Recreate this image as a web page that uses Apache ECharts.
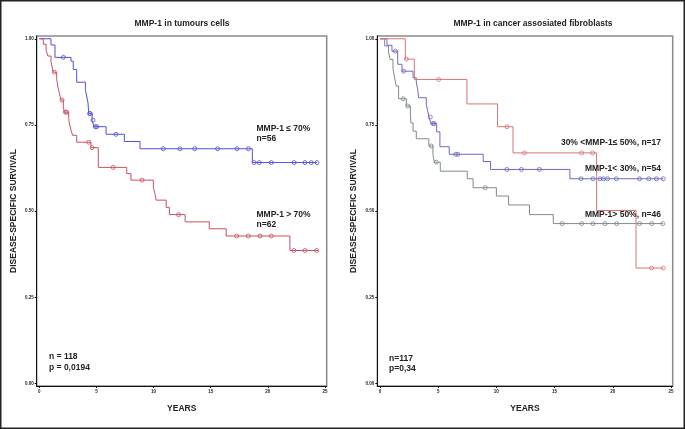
<!DOCTYPE html>
<html>
<head>
<meta charset="utf-8">
<script src="https://cdn.jsdelivr.net/npm/echarts@6/dist/echarts.min.js"></script>
<style>
html,body{margin:0;padding:0;background:#fff;}
#chart{width:685px;height:429px;}
</style>
</head>
<body>
<div id="chart"></div>
<script>
// ---- Data ----
const xTicks = [0, 5, 10, 15, 20, 25];
const yTicks = [0, 0.25, 0.5, 0.75, 1];

// Left panel: MMP-1 in tumour cells
const lowTimes = [0, 1.02, 1.37, 2.77, 2.97, 3.27, 4.03, 4.14, 4.26, 4.32, 4.62, 4.78, 5.84, 7.44, 8.81, 18.64, 24.3];
const lowSurv  = [1, 0.982, 0.946, 0.935, 0.911, 0.874, 0.853, 0.834, 0.814, 0.783, 0.764, 0.745, 0.723, 0.702, 0.681, 0.641, 0.641];
const lowCens  = [2.1, 4.4, 4.45, 4.7, 4.9, 5.02, 6.7, 10.85, 12.3, 13.6, 15.6, 17.3, 18.3, 18.8, 19.25, 20.3, 22.3, 23.25, 23.8, 24.3];

const highTimes = [0, 0.35, 0.59, 0.75, 1.02, 1.12, 1.22, 1.52, 1.61, 1.75, 1.9, 2.1, 2.19, 2.57, 2.62, 2.77, 2.92, 3.27, 4.52, 5.16, 7.65, 8.02, 9.98, 10.12, 10.22, 11.1, 11.38, 12.76, 14.87, 16.35, 21.93, 24.4];
const highSurv  = [1, 0.984, 0.966, 0.95, 0.933, 0.918, 0.903, 0.884, 0.863, 0.843, 0.822, 0.803, 0.787, 0.771, 0.756, 0.735, 0.72, 0.7, 0.684, 0.627, 0.609, 0.59, 0.568, 0.551, 0.532, 0.511, 0.49, 0.469, 0.449, 0.428, 0.386, 0.386];
const highCens  = [1.31, 1.99, 2.28, 2.39, 4.32, 4.61, 6.47, 8.99, 12.18, 17.27, 18.29, 19.31, 20.3, 22.28, 23.25, 24.27];

// Right panel: MMP-1 in cancer associated fibroblasts
const midTimes = [0, 2.18, 2.95, 7.47, 10.1, 11.43, 18.61, 22.0, 24.34];
const midSurv  = [1, 0.941, 0.882, 0.811, 0.745, 0.669, 0.502, 0.335, 0.335];
const midCens  = [2.26, 5.04, 10.91, 12.4, 17.33, 18.27, 23.34, 24.34];

const lt30Times = [0, 0.6, 1.03, 1.52, 1.89, 2.84, 3.12, 3.24, 3.32, 3.98, 4.1, 4.22, 4.38, 4.87, 5.15, 5.95, 8.87, 9.5, 16.32, 24.34];
const lt30Surv  = [1, 0.981, 0.964, 0.926, 0.906, 0.887, 0.874, 0.853, 0.829, 0.81, 0.79, 0.773, 0.754, 0.73, 0.687, 0.665, 0.644, 0.621, 0.594, 0.594];
const lt30Cens  = [1.32, 2.03, 4.32, 4.55, 4.67, 6.5, 6.68, 10.9, 12.15, 13.69, 17.28, 18.3, 18.9, 19.2, 19.55, 20.3, 22.3, 23.1, 23.75, 24.34];

const gt50Times = [0, 0.4, 0.74, 0.89, 1.12, 1.23, 1.4, 1.6, 2.26, 2.61, 2.66, 2.84, 3.12, 4.2, 4.55, 4.67, 5.18, 7.5, 8.0, 10.0, 11.05, 12.85, 14.89, 24.34];
const gt50Surv  = [1, 0.979, 0.959, 0.94, 0.913, 0.892, 0.863, 0.826, 0.805, 0.781, 0.756, 0.732, 0.71, 0.689, 0.665, 0.642, 0.616, 0.594, 0.568, 0.544, 0.518, 0.49, 0.464, 0.464];
const gt50Cens  = [1.98, 2.38, 4.41, 4.84, 9.05, 15.65, 17.33, 18.3, 19.33, 20.33, 22.3, 23.34, 24.3];

// ---- helpers ----
function survAt(times, surv, t) {
  let s = surv[0];
  for (let i = 0; i < times.length; i++) { if (times[i] <= t) s = surv[i]; }
  return s;
}
function stepSeries(times, surv, color, idx) {
  return {
    type: 'line', step: 'end', xAxisIndex: idx, yAxisIndex: idx,
    data: times.map((t, i) => [t, surv[i]]),
    showSymbol: false, lineStyle: { color: color, width: 1 }, z: 3
  };
}
function censSeries(cens, times, surv, color, idx) {
  return {
    type: 'scatter', xAxisIndex: idx, yAxisIndex: idx,
    data: cens.map(t => [t, survAt(times, surv, t)]),
    symbol: 'circle', symbolSize: 4,
    itemStyle: { color: 'transparent', borderColor: color, borderWidth: 1 }, z: 4
  };
}
const FONT = '"Liberation Sans", Arial, sans-serif';
function xAx(idx) {
  return {
    type: 'value', gridIndex: idx, min: -0.23, max: 25.15,
    name: 'YEARS', nameLocation: 'middle', nameGap: 18.5,
    nameTextStyle: { fontFamily: FONT, fontWeight: 'bold', fontSize: 8.5, color: '#222' },
    axisLine: { onZero: false, lineStyle: { color: '#111', width: 1 } },
    axisTick: { customValues: xTicks, length: 2, lineStyle: { color: '#111' } },
    axisLabel: { customValues: xTicks, fontSize: 4.5, margin: 3, color: '#222', fontFamily: FONT, fontWeight: 'bold' },
    splitLine: { show: false }
  };
}
function yAx(idx) {
  return {
    type: 'value', gridIndex: idx, min: -0.007, max: 1.008,
    name: 'DISEASE-SPECIFIC SURVIVAL', nameLocation: 'middle', nameGap: 19,
    nameTextStyle: { fontFamily: FONT, fontWeight: 'bold', fontSize: 8.5, color: '#222' },
    axisLine: { onZero: false, lineStyle: { color: '#111', width: 1 } },
    axisTick: { customValues: yTicks, length: 2, lineStyle: { color: '#111' } },
    axisLabel: { customValues: yTicks, fontSize: 4.5, margin: 3, color: '#222', fontFamily: FONT, fontWeight: 'bold',
      formatter: v => v.toFixed(2) },
    splitLine: { show: false }
  };
}
function txt(x, y, s, align) {
  return { type: 'text', x: x, y: y, z: 10,
    style: { text: s, fontFamily: FONT, fontWeight: 'bold', fontSize: 8.5, fill: '#222',
      textAlign: align || 'left', textVerticalAlign: 'middle' } };
}

const BLUE_L = '#5050d8', RED_L = '#c85060';
const RED_R = '#d87474', BLUE_R = '#6a6ac4', GRAY_R = '#7f8a8e';

const chart = echarts.init(document.getElementById('chart'), null, { renderer: 'canvas' });
chart.setOption({
  animation: false,
  backgroundColor: '#fff',
  title: [
    { text: 'MMP-1 in tumours cells', left: 177, top: 14, textAlign: 'center',
      textStyle: { fontFamily: FONT, fontWeight: 'bold', fontSize: 8.5, color: '#222' } },
    { text: 'MMP-1 in cancer assosiated fibroblasts', left: 528, top: 14, textAlign: 'center',
      textStyle: { fontFamily: FONT, fontWeight: 'bold', fontSize: 8.5, color: '#222' } }
  ],
  grid: [
    { left: 36.7, top: 36, width: 290, height: 350, show: true, borderColor: '#8a8a8a', borderWidth: 1.5 },
    { left: 377.3, top: 36, width: 295.4, height: 350, show: true, borderColor: '#8a8a8a', borderWidth: 1.5 }
  ],
  xAxis: [xAx(0), xAx(1)],
  yAxis: [yAx(0), yAx(1)],
  series: [
    stepSeries(lowTimes, lowSurv, BLUE_L, 0),
    censSeries(lowCens, lowTimes, lowSurv, BLUE_L, 0),
    stepSeries(highTimes, highSurv, RED_L, 0),
    censSeries(highCens, highTimes, highSurv, RED_L, 0),
    stepSeries(gt50Times, gt50Surv, GRAY_R, 1),
    censSeries(gt50Cens, gt50Times, gt50Surv, GRAY_R, 1),
    stepSeries(lt30Times, lt30Surv, BLUE_R, 1),
    censSeries(lt30Cens, lt30Times, lt30Surv, BLUE_R, 1),
    stepSeries(midTimes, midSurv, RED_R, 1),
    censSeries(midCens, midTimes, midSurv, RED_R, 1)
  ],
  graphic: [
    { type: 'rect', shape: { x: 0.75, y: 0.75, width: 683.5, height: 427.5 },
      style: { fill: 'none', stroke: '#222', lineWidth: 1.5 }, z: 20 },
    txt(256.5, 129, 'MMP-1 ≤ 70%'),
    txt(256.5, 138.5, 'n=56'),
    txt(256.5, 215, 'MMP-1 > 70%'),
    txt(256.5, 225, 'n=62'),
    txt(49, 357, 'n = 118'),
    txt(49, 368, 'p = 0,0194'),
    txt(661, 143, '30% <MMP-1≤ 50%, n=17', 'right'),
    txt(661, 169, 'MMP-1< 30%, n=54', 'right'),
    txt(661, 215, 'MMP-1> 50%, n=46', 'right'),
    txt(389, 359, 'n=117'),
    txt(389, 369, 'p=0,34')
  ]
});
</script>
</body>
</html>
